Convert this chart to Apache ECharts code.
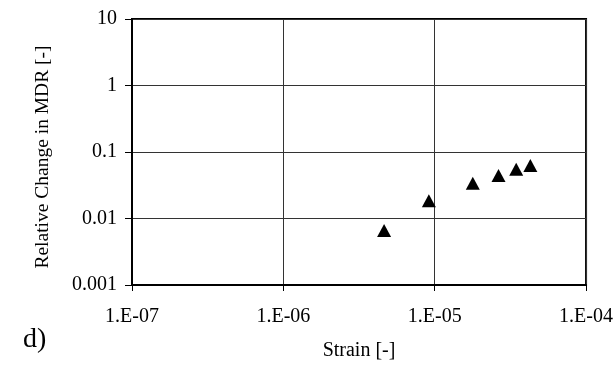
<!DOCTYPE html>
<html>
<head>
<meta charset="utf-8">
<script src="https://cdn.jsdelivr.net/npm/echarts@6/dist/echarts.min.js"></script>
<style>
html,body{margin:0;padding:0;background:#fff;}
#chart{width:616px;height:367px;}
</style>
</head>
<body>
<div id="chart"></div>
<script>
const strain = [4.63e-6, 9.15e-6, 1.785e-5, 2.64e-5, 3.455e-5, 4.285e-5];
const mdrChange = [0.0066, 0.0185, 0.034, 0.0443, 0.0549, 0.0627];
const xTickLabels = ['1.E-07', '1.E-06', '1.E-05', '1.E-04'];
const yTickLabels = ['0.001', '0.01', '0.1', '1', '10'];
const xTitle = 'Strain [-]';
const yTitle = 'Relative Change in MDR [-]';
const panelLabel = 'd)';

const FONT = '"Liberation Serif", "Times New Roman", serif';
const chart = echarts.init(document.getElementById('chart'), null, {renderer: 'canvas'});

function xFmt(v) {
  const e = Math.round(Math.log10(v));
  const i = e + 7;
  return xTickLabels[i] !== undefined ? xTickLabels[i] : '';
}
function yFmt(v) {
  const e = Math.round(Math.log10(v));
  const i = e + 3;
  return yTickLabels[i] !== undefined ? yTickLabels[i] : '';
}

chart.setOption({
  animation: false,
  backgroundColor: '#fff',
  grid: {left: 132, right: 29, top: 19, bottom: 82, show: true, borderColor: '#000', borderWidth: 2, backgroundColor: 'transparent'},
  xAxis: {
    type: 'log', logBase: 10, min: 1e-7, max: 1e-4,
    name: xTitle, nameLocation: 'middle', nameGap: 56,
    nameTextStyle: {fontFamily: FONT, fontSize: 20, color: '#000'},
    axisLine: {show: true, lineStyle: {color: '#000', width: 2}},
    axisTick: {show: true, length: 6, lineStyle: {color: '#000', width: 1}},
    minorTick: {show: false},
    axisLabel: {formatter: xFmt, fontFamily: FONT, fontSize: 20, color: '#000', margin: 22},
    splitLine: {show: true, lineStyle: {color: '#333', width: 1}}
  },
  yAxis: {
    type: 'log', logBase: 10, min: 0.001, max: 10,
    axisLine: {show: true, lineStyle: {color: '#000', width: 2}},
    axisTick: {show: true, length: 7, lineStyle: {color: '#000', width: 1}},
    minorTick: {show: false},
    axisLabel: {formatter: yFmt, fontFamily: FONT, fontSize: 20, color: '#000', margin: 15},
    splitLine: {show: true, lineStyle: {color: '#333', width: 1}}
  },
  series: [{
    type: 'scatter',
    data: strain.map((x, i) => [x, mdrChange[i]]),
    symbol: 'triangle',
    symbolSize: [14, 13],
    itemStyle: {color: '#000', opacity: 1}
  }],
  graphic: [{
    type: 'text', x: 43, y: 157, rotation: Math.PI / 2,
    style: {text: yTitle, font: '19.5px ' + FONT, fill: '#000', align: 'center', verticalAlign: 'middle'}
  }, {
    type: 'text', left: 23, top: 326,
    style: {text: panelLabel, font: '28px ' + FONT, fill: '#000'}
  }]
});
</script>
</body>
</html>
